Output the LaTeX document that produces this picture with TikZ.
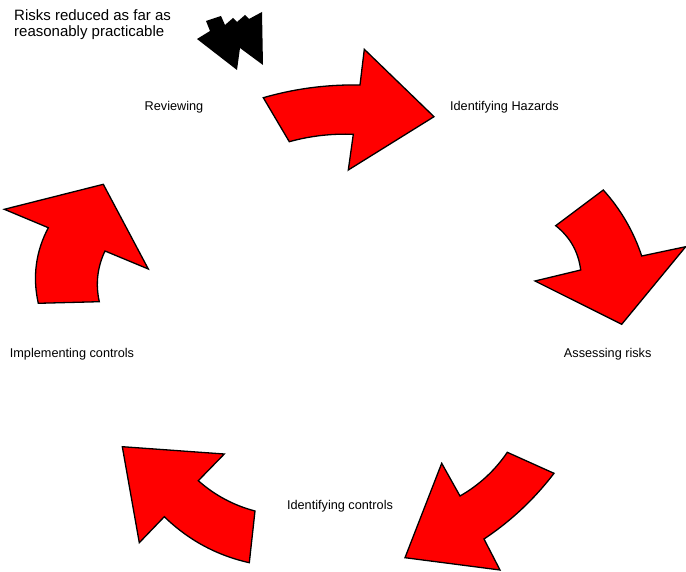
\documentclass[tikz,border=0pt]{standalone}
\usepackage{fontspec}
\setmainfont{Liberation Sans}
\usepackage{xcolor}
\usetikzlibrary{positioning}
\definecolor{ink}{HTML}{000000}
\definecolor{cyclered}{HTML}{FF0000}
\tikzset{
  cyclearrow/.style={
    fill=cyclered,
    draw=ink,
    line width=1.3pt,
    line join=miter
  },
  steplabel/.style={
    anchor=base,
    inner sep=0pt,
    font=\fontsize{12.7}{15}\selectfont,
    text=ink
  },
  goalnote/.style={
    anchor=north west,
    inner sep=0pt,
    align=left,
    font=\fontsize{15}{16}\selectfont,
    text=ink
  }
}
\begin{document}
\begin{tikzpicture}[x=1pt,y=-1pt]
      \useasboundingbox (0,0) rectangle (686,572);
      % labels of the cycle
      \node[goalnote] (goal) at (14,9.7) {Risks reduced as far as\\reasonably practicable};
      \node[steplabel] (review) at (174,110.7) {Reviewing};
      \node[steplabel] (hazards) at (504.5,110.7) {Identifying Hazards};
      \node[steplabel] (assess) at (607.7,357.3) {Assessing risks};
      \node[steplabel] (idcontrols) at (340,509) {Identifying controls};
      \node[steplabel] (implement) at (72,357.3) {Implementing controls};
      % black marker next to the goal
      \fill[ink] (197,39) -- (210,31) -- (206,21) -- (221,16) -- (225,25) -- (233,18)
        -- (237,22) -- (245,15) -- (249,19) -- (262,12) -- (263,65) -- (240,48)
        -- (237,70) -- cycle;
      % top arrow
      \draw[cyclearrow] (263.3,97.7) .. controls (294.9,88.6) and (327.1,84.4) .. (360,85)
        -- (364.3,49.3) -- (434,116.7) -- (348.3,170) -- (353.3,134.3)
        .. controls (331.6,133.5) and (310.3,135.9) .. (289.3,141.7) -- cycle;
      % right arrow
      \draw[cyclearrow] (555.7,225.7) -- (603.3,190)
        .. controls (620.7,209.3) and (633.5,231.3) .. (641.7,256)
        -- (685.7,246.7) -- (621.7,324.3) -- (535,281) -- (580.7,270)
        .. controls (578.4,251.8) and (570.1,237.1) .. cycle;
      % lower right arrow
      \draw[cyclearrow] (507.3,452.3) -- (554,473.3)
        .. controls (534.3,499.1) and (511,521) .. (484,539)
        -- (500,570) -- (405,557.7) -- (441.7,463.3) -- (460,496)
        .. controls (479.1,485.1) and (494.9,470.5) .. cycle;
      % lower left arrow
      \draw[cyclearrow] (249.3,562.7) -- (255,511)
        .. controls (233.7,505.4) and (214.8,495.3) .. (198.3,480.7)
        -- (224.3,454) -- (122.3,446.7) -- (139.3,542.7) -- (164.3,516.7)
        .. controls (188.3,540) and (216.6,555.4) .. cycle;
      % left arrow
      \draw[cyclearrow] (38.3,303.3) -- (99.3,301.7)
        .. controls (95.4,284.1) and (97.3,267.2) .. (105,251)
        -- (148.3,269) -- (103.3,184.3) -- (4.3,209.3) -- (48.3,227.7)
        .. controls (35.7,251.7) and (32.4,276.9) .. cycle;
    \end{tikzpicture}
\end{document}
